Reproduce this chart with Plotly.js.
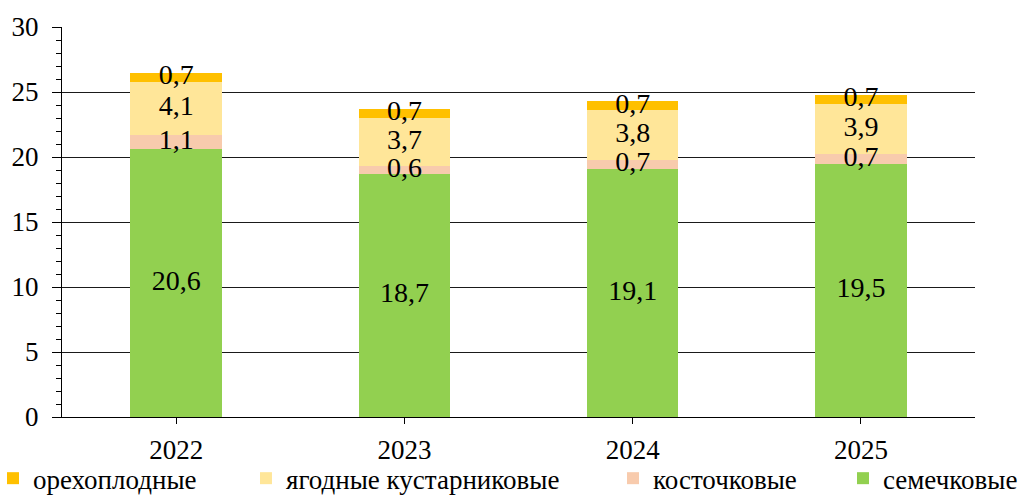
<!DOCTYPE html>
<html>
<head>
<meta charset="utf-8">
<script src="https://cdn.plot.ly/plotly-3.0.1.min.js"></script>
<style>html,body{margin:0;padding:0;background:#fff;}#chart{width:1027px;height:495px;}</style>
</head>
<body>
<div id="chart"></div>
<script>
const years = ['2022', '2023', '2024', '2025'];
const semechkovye = [20.6, 18.7, 19.1, 19.5];
const kostochkovye = [1.1, 0.6, 0.7, 0.7];
const yagodnye = [4.1, 3.7, 3.8, 3.9];
const orehoplodnye = [0.7, 0.7, 0.7, 0.7];
const seriesNames = ['семечковые', 'косточковые', 'ягодные кустарниковые', 'орехоплодные'];
const seriesColors = ['#92D050', '#F8CBAD', '#FFE699', '#FFC000'];
const seriesValues = [semechkovye, kostochkovye, yagodnye, orehoplodnye];
const yTicks = [0, 5, 10, 15, 20, 25, 30];

const FONT = '"Times New Roman", Times, "Liberation Serif", serif';
const legendIds = ['legend4', 'legend3', 'legend2', 'legend'];

const barTraces = seriesValues.map((vals, i) => ({
  type: 'bar',
  x: years,
  y: vals,
  name: seriesNames[i],
  legend: legendIds[i],
  marker: {color: seriesColors[i], line: {width: 0}},
  hoverinfo: 'skip'
}));

// value labels, centred in each stacked segment (positions derived from the data)
const labelTraces = seriesValues.map((vals, i) => ({
  type: 'scatter',
  mode: 'text',
  x: years,
  y: vals.map((v, j) => seriesValues.slice(0, i).reduce((s, arr) => s + arr[j], 0) + v / 2),
  text: vals.map(v => v.toFixed(1).replace('.', ',')),
  textposition: 'middle center',
  textfont: {family: FONT, size: 28, color: '#000'},
  showlegend: false,
  hoverinfo: 'skip'
}));

function legendAt(x) {
  return {
    orientation: 'h', x: x, xanchor: 'left', y: -0.158, yanchor: 'middle',
    font: {family: FONT, size: 27, color: '#000'},
    bgcolor: 'rgba(0,0,0,0)', borderwidth: 0
  };
}

const layout = {
  width: 1027, height: 495,
  margin: {l: 62, r: 52, t: 27, b: 78, autoexpand: false},
  paper_bgcolor: '#fff', plot_bgcolor: '#fff',
  barmode: 'stack',
  bargap: 0.6,
  font: {family: FONT, size: 27, color: '#000'},
  showlegend: true,
  legend: legendAt(-0.0756),
  legend2: legendAt(0.2015),
  legend3: legendAt(0.6035),
  legend4: legendAt(0.8554),
  xaxis: {
    type: 'category', categoryarray: years, range: [-0.5, 3.5],
    showline: true, linecolor: '#000', linewidth: 1,
    ticks: 'outside', ticklen: 6, tickcolor: '#000', tickwidth: 1,
    ticklabelstandoff: 3,
    tickfont: {family: FONT, size: 27, color: '#000'},
    showgrid: false, zeroline: false, fixedrange: true
  },
  xaxis2: {
    type: 'linear', overlaying: 'x', anchor: 'y', side: 'bottom', range: [-0.5, 3.5],
    tickmode: 'array', tickvals: [0, 1, 2, 3, 3.5], ticks: 'inside', ticklen: 5,
    tickcolor: '#000', showticklabels: false, showgrid: false, zeroline: false, showline: false
  },
  xaxis3: {
    type: 'linear', overlaying: 'x', anchor: 'y', side: 'bottom', range: [-0.5, 3.5],
    tickmode: 'array', tickvals: [0.5, 1.5, 2.5, 3.5], ticks: 'outside', ticklen: 7,
    tickcolor: '#000', showticklabels: false, showgrid: false, zeroline: false, showline: false
  },
  yaxis: {
    range: [0, 30], tickmode: 'array', tickvals: yTicks,
    showline: true, linecolor: '#000', linewidth: 1,
    ticks: 'outside', ticklen: 9, tickcolor: '#000',
    minor: {dtick: 1, ticks: 'outside', ticklen: 5, tickcolor: '#000', showgrid: false},
    showgrid: true, gridcolor: '#1a1a1a', gridwidth: 1,
    zeroline: false, ticklabelstandoff: 8,
    tickfont: {family: FONT, size: 27, color: '#000'},
    fixedrange: true
  },
  yaxis2: {
    range: [0, 30], overlaying: 'y', anchor: 'x', side: 'left',
    tickmode: 'array', tickvals: yTicks, ticks: 'inside', ticklen: 6, tickcolor: '#000',
    minor: {dtick: 1, ticks: 'inside', ticklen: 6, tickcolor: '#000', showgrid: false},
    showticklabels: false, showgrid: false, zeroline: false, showline: false
  }
};

Plotly.newPlot('chart', barTraces.concat(labelTraces), layout, {staticPlot: true, displayModeBar: false});
</script>
</body>
</html>
